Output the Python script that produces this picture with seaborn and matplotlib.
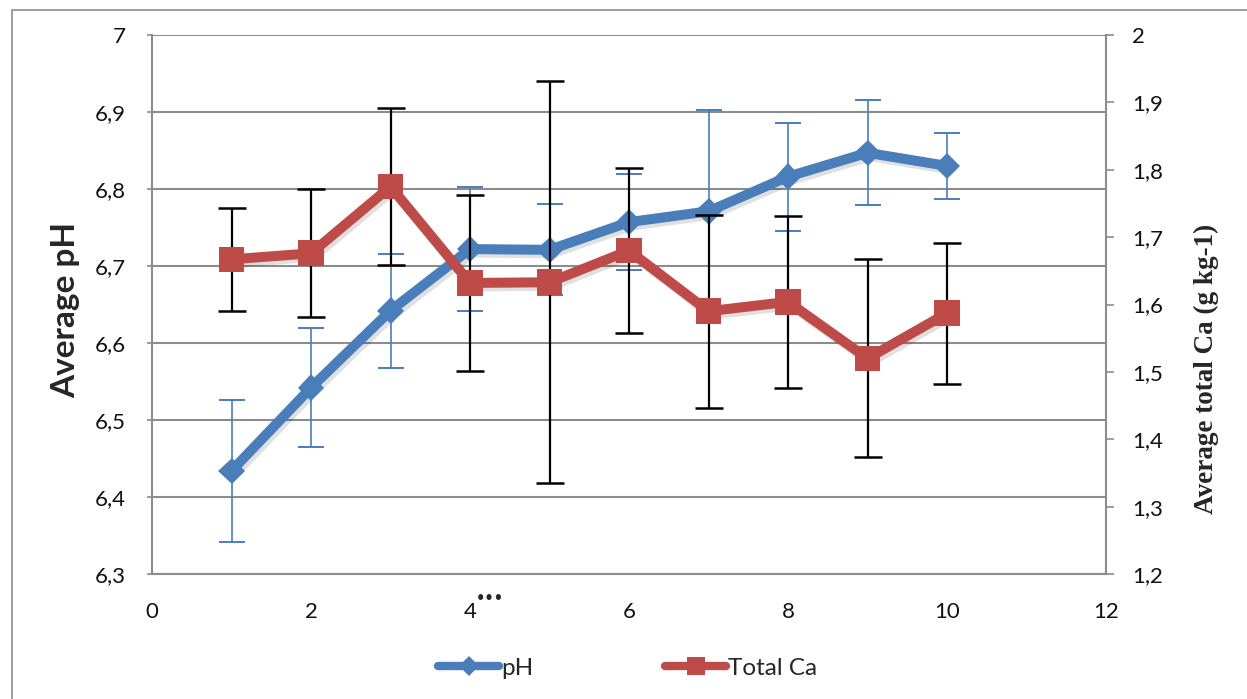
import matplotlib
matplotlib.use("Agg")
import matplotlib.pyplot as plt
import matplotlib.patheffects as pe
from matplotlib.lines import Line2D
from matplotlib.patches import Rectangle
import numpy as np
import pandas as pd
import seaborn as sns

# Sampling points
points = [1, 2, 3, 4, 5, 6, 7, 8, 9, 10]

# Average pH and its standard deviation
ph_mean = [6.434, 6.542, 6.642, 6.722, 6.721, 6.757, 6.771, 6.816, 6.847, 6.830]
ph_err = [0.092, 0.077, 0.074, 0.081, 0.059, 0.062, 0.131, 0.070, 0.068, 0.043]

# Average total Ca (g kg-1) and its standard deviation
ca_mean = [1.667, 1.676, 1.775, 1.632, 1.633, 1.680, 1.590, 1.604, 1.520, 1.587]
ca_err = [0.076, 0.095, 0.117, 0.131, 0.298, 0.122, 0.143, 0.128, 0.147, 0.105]

# Axis ticks and labels (decimal comma)
x_ticks = [0, 2, 4, 6, 8, 10, 12]
x_tick_labels = ["0", "2", "4", "6", "8", "10", "12"]
ph_ticks = [6.3, 6.4, 6.5, 6.6, 6.7, 6.8, 6.9, 7.0]
ph_tick_labels = ["6,3", "6,4", "6,5", "6,6", "6,7", "6,8", "6,9", "7"]
ca_ticks = [1.2, 1.3, 1.4, 1.5, 1.6, 1.7, 1.8, 1.9, 2.0]
ca_tick_labels = ["1,2", "1,3", "1,4", "1,5", "1,6", "1,7", "1,8", "1,9", "2"]

series_names = ["pH", "Total Ca"]

BLUE = "#4A7EBB"
RED = "#BE4B48"
GRID = "#8C8C8C"

sns.set_style("white")
plt.rcParams["font.family"] = ["Lato", "DejaVu Sans"]

df = pd.DataFrame({"point": points, "ph": ph_mean, "ca": ca_mean})

W, H = 1247, 699
fig = plt.figure(figsize=(W / 100, H / 100), dpi=100)

# Chart-area frame
fig.add_artist(Rectangle((12 / W, -0.05), 1.1, 1 - 10 / H + 0.05,
                         transform=fig.transFigure, fill=False,
                         edgecolor="#8C8C8C", linewidth=1.2, zorder=0))

ax = fig.add_axes([152 / W, 1 - 574 / H, (1106 - 152) / W, (574 - 35) / H])
ax2 = ax.twinx()

# Left axis: pH
ax.set_xlim(0, 12)
ax.set_ylim(6.3, 7.0)
ax.set_yticks(ph_ticks)
ax.set_yticklabels(ph_tick_labels)
ax.set_xticks(x_ticks)
ax.set_xticklabels(x_tick_labels)
ax.grid(axis="y", color=GRID, linewidth=1.5)
ax.grid(axis="x", visible=False)
ax.set_axisbelow(True)
for side in ["top", "right"]:
    ax.spines[side].set_visible(False)
for side in ["left", "bottom"]:
    ax.spines[side].set_color(GRID)
    ax.spines[side].set_linewidth(1.5)
ax.tick_params(axis="y", direction="out", length=3.6, width=1.2, color=GRID,
               pad=15, labelsize=16, labelcolor="#111111")
ax.tick_params(axis="x", length=0, pad=20, labelsize=16, labelcolor="#111111")

ax.errorbar(points, ph_mean, yerr=ph_err, fmt="none", ecolor=BLUE,
            elinewidth=1.2, capsize=9.5, capthick=1.4, zorder=2)
shadow = [pe.SimpleLineShadow(offset=(2, -2.5), shadow_color="black", alpha=0.12),
          pe.Normal()]
sns.lineplot(data=df, x="point", y="ph", ax=ax, color=BLUE, linewidth=7.2,
             marker="D", markersize=13.5, markeredgewidth=0, legend=False,
             path_effects=shadow, zorder=3)
ax.set_xlabel("")
ax.set_ylabel("")

# Right axis: total Ca
ax2.set_ylim(1.2, 2.0)
ax2.set_yticks(ca_ticks)
ax2.set_yticklabels(ca_tick_labels)
ax2.grid(False)
for side in ["top", "left", "bottom"]:
    ax2.spines[side].set_visible(False)
ax2.spines["right"].set_color(GRID)
ax2.spines["right"].set_linewidth(1.5)
ax2.tick_params(axis="y", direction="out", length=6, width=1.2, color=GRID,
                pad=13, labelsize=16, labelcolor="#111111")

ax2.errorbar(points, ca_mean, yerr=ca_err, fmt="none", ecolor="black",
             elinewidth=1.6, capsize=10, capthick=1.8, zorder=2)
sns.lineplot(data=df, x="point", y="ca", ax=ax2, color=RED, linewidth=7.2,
             marker="s", markersize=18.5, markeredgewidth=0, legend=False,
             path_effects=shadow, zorder=3)
ax2.set_xlabel("")
ax2.set_ylabel("")

# Axis titles
fig.text(66 / W, 1 - 310 / H, "Average pH", rotation=90, ha="center",
         va="center", fontsize=24, fontweight="bold", family=["Lato", "DejaVu Sans"])
fig.text(1206 / W, 1 - 369 / H, "Average total Ca (g kg-1)", rotation=90,
         ha="center", va="center", fontsize=19.5, fontweight="bold",
         family=["Liberation Serif", "DejaVu Serif"])

# Raised dots after the "4" tick label
fig.text(476 / W, 1 - 599 / H, "•••", ha="left", va="center", fontsize=10.5,
         fontweight="bold", family=["DejaVu Sans"])

# Legend under the plot
handles = [
    Line2D([], [], color=BLUE, linewidth=6, marker="D", markersize=10,
           markeredgewidth=0, solid_capstyle="round"),
    Line2D([], [], color=RED, linewidth=6, marker="s", markersize=13,
           markeredgewidth=0, solid_capstyle="round"),
]
fig.legend(handles, series_names, loc="center", bbox_to_anchor=(628 / W, 1 - 668 / H),
           ncol=2, frameon=False, fontsize=17.5, handlelength=2.5,
           handletextpad=0.1, columnspacing=5.4, borderaxespad=0)

fig.savefig("out.png", dpi=100)
